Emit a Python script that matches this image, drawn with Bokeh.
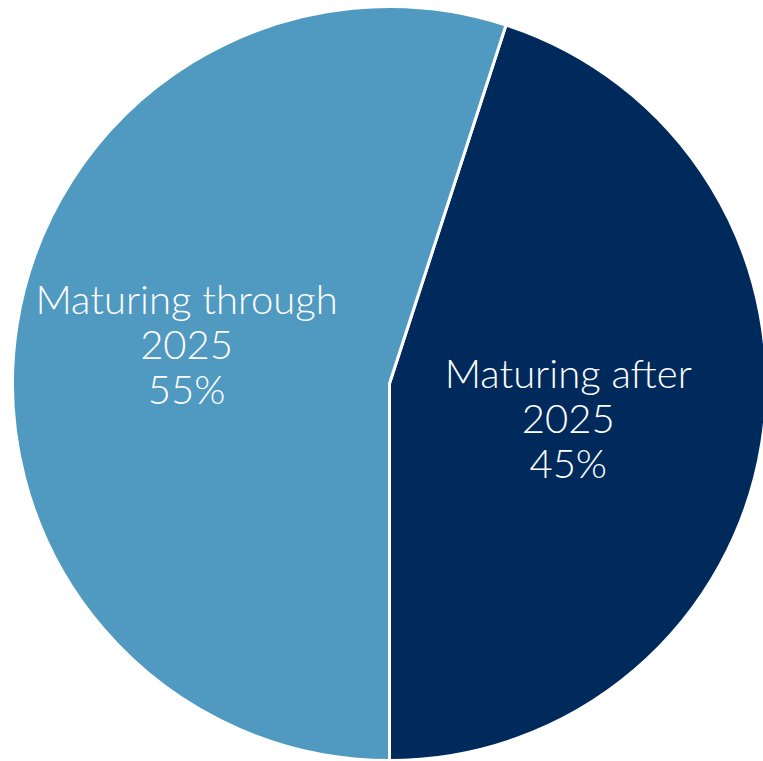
import math
from bokeh.plotting import figure
from bokeh.models import Range1d, ColumnDataSource
from bokeh.core.properties import value
from bokeh.embed import file_html
from bokeh.resources import INLINE

# Data
categories = ["Maturing after\n2025", "Maturing through\n2025"]
shares = [45, 55]
colors = ["#002A5C", "#5099C1"]

W, H = 763, 761
R = 377
cx, cy = 389, 383  # pie centre in pixels from top-left of plot

p = figure(width=W, height=H, output_backend="svg", toolbar_location=None,
           x_range=Range1d(-cx, W - cx), y_range=Range1d(cy - H, cy),
           min_border=0, outline_line_color=None)
p.axis.visible = False
p.grid.visible = False
p.background_fill_color = "white"
p.border_fill_color = "white"

# first slice ends at bottom (-90deg) going counter-clockwise
start_deg = -90.0
starts, ends, mids = [], [], []
a = start_deg
for s in shares:
    b = a + s / 100 * 360
    starts.append(math.radians(a))
    ends.append(math.radians(b))
    mids.append(math.radians((a + b) / 2))
    a = b

src = ColumnDataSource(dict(start=starts, end=ends, color=colors))
p.wedge(x=0, y=0, radius=R, start_angle="start", end_angle="end",
        fill_color="color", line_color="white", line_width=3, source=src)

label_r = [0.48, 0.545]
label_dy = [-6, 7]
lx = [label_r[i] * R * math.cos(mids[i]) for i in range(2)]
ly = [label_r[i] * R * math.sin(mids[i]) + label_dy[i] for i in range(2)]
texts = [f"{c}\n{s}%" for c, s in zip(categories, shares)]
p.text(x=lx, y=ly, text=texts, text_color="white",
       text_font=value("'Lato Light', Lato, sans-serif"),
       text_font_size="40px", text_align="center", text_baseline="middle",
       text_line_height=0.94)

open("out.html", "w").write(file_html(p, INLINE))
